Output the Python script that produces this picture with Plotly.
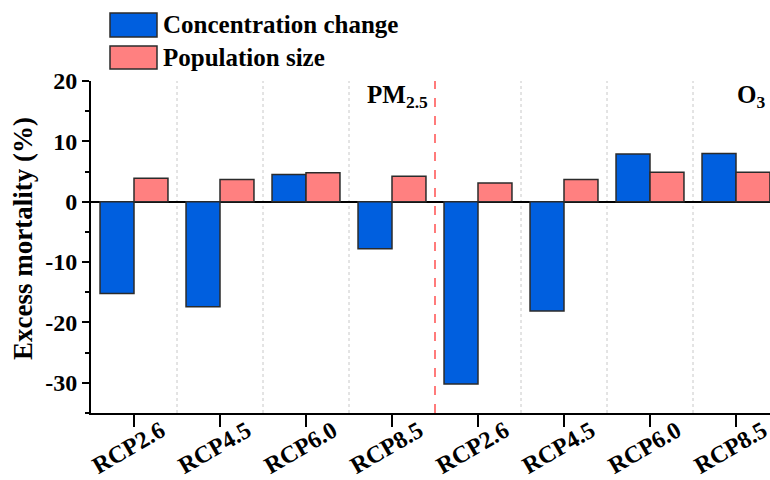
import plotly.graph_objects as go

# ---- data ----
scenarios = ["RCP2.6", "RCP4.5", "RCP6.0", "RCP8.5", "RCP2.6", "RCP4.5", "RCP6.0", "RCP8.5"]
concentration_change = [-15.2, -17.4, 4.5, -7.8, -30.2, -18.1, 7.9, 8.0]
population_size = [3.9, 3.7, 4.8, 4.2, 3.1, 3.7, 4.9, 4.9]
series_names = ["Concentration change", "Population size"]
pollutants = ["PM<sub>2.5</sub>", "O<sub>3</sub>"]
y_ticks = [-30, -20, -10, 0, 10, 20]

BLUE = "#005FDF"
PINK = "#FF8080"
EDGE = "#2b2b2b"
FONT = "Liberation Serif"

W, H = 770, 480
L, R, T, B = 91, 0, 81, 67
PW, PH = W - L - R, H - T - B

def pxx(x):
    return (x - L) / PW

def pxy(y):
    return (H - B - y) / PH

xpos = list(range(len(scenarios)))

fig = go.Figure()
fig.add_trace(go.Bar(x=xpos, y=concentration_change, name=series_names[0],
                     marker=dict(color=BLUE, line=dict(color=EDGE, width=1.5))))
fig.add_trace(go.Bar(x=xpos, y=population_size, name=series_names[1],
                     marker=dict(color=PINK, line=dict(color=EDGE, width=1.5))))

shapes = []
# separators between scenario groups
for i in range(len(scenarios) - 1):
    xb = i + 0.5
    if i == 3:
        shapes.append(dict(type="line", xref="x", yref="paper", x0=xb, x1=xb, y0=0, y1=1,
                           line=dict(color="#FF5A5A", width=1.6, dash="dash"), layer="above"))
    else:
        shapes.append(dict(type="line", xref="x", yref="paper", x0=xb, x1=xb, y0=0, y1=1,
                           line=dict(color="#C8C8C8", width=1, dash="dot"), layer="below"))

# custom legend swatches
leg_rows = [(13, 37, BLUE), (46, 69, PINK)]
for (y0, y1, c) in leg_rows:
    shapes.append(dict(type="rect", xref="paper", yref="paper",
                       x0=pxx(110), x1=pxx(157), y0=pxy(y1), y1=pxy(y0),
                       fillcolor=c, line=dict(color=EDGE, width=1.5)))

annotations = []
for (y0, y1, c), name in zip(leg_rows, series_names):
    annotations.append(dict(xref="paper", yref="paper", x=pxx(161), y=pxy((y0 + y1) / 2),
                            xanchor="left", yanchor="middle", showarrow=False,
                            text="<b>%s</b>" % name,
                            font=dict(family=FONT, size=25, color="black")))

# pollutant labels
annotations.append(dict(xref="paper", yref="paper", x=pxx(430), y=pxy(79),
                        xanchor="right", yanchor="top", showarrow=False,
                        text="<b>%s</b>" % pollutants[0],
                        font=dict(family=FONT, size=25, color="black")))
annotations.append(dict(xref="paper", yref="paper", x=pxx(767), y=pxy(79),
                        xanchor="right", yanchor="top", showarrow=False,
                        text="<b>%s</b>" % pollutants[1],
                        font=dict(family=FONT, size=25, color="black")))

# x tick labels (rotated)
for xi, lab in zip(xpos, scenarios):
    annotations.append(dict(xref="x", yref="paper", x=xi, y=pxy(448), xshift=-6,
                            xanchor="center", yanchor="middle", showarrow=False,
                            textangle=-30, text="<b>%s</b>" % lab,
                            font=dict(family=FONT, size=24, color="black")))

# y axis title
annotations.append(dict(xref="paper", yref="paper", x=pxx(23), y=pxy(239),
                        xanchor="center", yanchor="middle", showarrow=False,
                        textangle=-90, text="<b>Excess mortality (%)</b>",
                        font=dict(family=FONT, size=27, color="black")))

fig.update_layout(
    width=W, height=H,
    margin=dict(l=L, r=R, t=T, b=B, pad=0),
    paper_bgcolor="white", plot_bgcolor="white",
    barmode="group", bargap=0.21, bargroupgap=0,
    showlegend=False,
    shapes=shapes, annotations=annotations,
    font=dict(family=FONT, color="black"),
)
fig.update_xaxes(range=[-0.5, -0.5 + PW / 86.0], tickvals=xpos, showticklabels=False,
                 ticks="outside", ticklen=12, tickwidth=2, tickcolor="black",
                 showline=True, linecolor="black", linewidth=2,
                 showgrid=False, zeroline=False)
fig.update_yaxes(range=[-35, 20], tickvals=y_ticks,
                 ticktext=["<b>%d</b>" % v for v in y_ticks],
                 tickfont=dict(family=FONT, size=24, color="black"),
                 ticks="outside", ticklen=7, tickwidth=2, tickcolor="black",
                 minor=dict(ticks="outside", ticklen=4, tickwidth=1.5, tickcolor="black", dtick=5, tick0=0),
                 showline=True, linecolor="black", linewidth=2,
                 showgrid=False, zeroline=True, zerolinecolor="black", zerolinewidth=2)

fig.write_html("out.html")
